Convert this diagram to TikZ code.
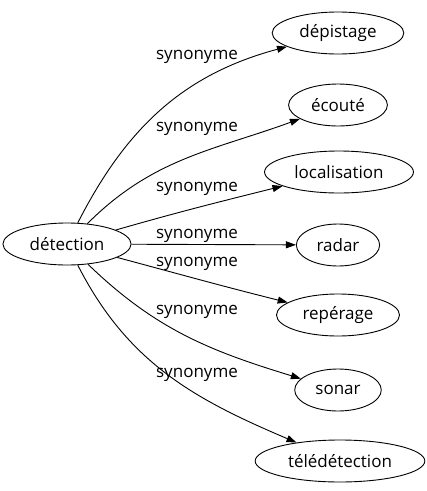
\documentclass[tikz,border=0pt]{standalone}
\usepackage{fontspec}
\setmainfont{Open Sans}
\usetikzlibrary{shapes.geometric}
\usetikzlibrary{arrows.meta}

\begin{document}
\begin{tikzpicture}[x=1pt,y=1pt,
  word/.style={draw,ellipse,line width=0.9pt,inner xsep=8pt,minimum height=42pt,font=\fontsize{17}{20}\selectfont},
  rel/.style={font=\fontsize{17}{20}\selectfont,inner sep=0pt},
  syn/.style={draw,line width=0.9pt,-{Triangle[length=10pt,width=7pt]}}]
  \useasboundingbox (0,0) rectangle (427,-491);
  %center
  \node[word] (detection) at (67,-244) {détection};
  %right
  \node[word] (depistage) at (338,-33) {dépistage};
  \node[word] (ecoute) at (338,-105) {écouté};
  \node[word] (localisation) at (339,-172) {localisation};
  \node[word] (radar) at (338,-245) {radar};
  \node[word] (reperage) at (338,-315) {repérage};
  \node[word] (sonar) at (338,-390) {sonar};
  \node[word] (teledetection) at (340,-461) {télédétection};
  %edges
  \draw[syn] (detection) to[out=63,in=195] (depistage);
  \draw[syn] (detection) to[out=45,in=200] (ecoute);
  \draw[syn] (detection) to[out=16,in=194] (localisation);
  \draw[syn] (detection) -- (radar);
  \draw[syn] (detection) to[out=-15,in=166] (reperage);
  \draw[syn] (detection) to[out=-44,in=163] (sonar);
  \draw[syn] (detection) to[out=-63,in=157] (teledetection);
  %labels
  \node[rel] (l1) at (197,-57) {synonyme};
  \node[rel] (l2) at (197,-129) {synonyme};
  \node[rel] (l3) at (197,-189) {synonyme};
  \node[rel] (l4) at (197,-236) {synonyme};
  \node[rel] (l5) at (197,-264) {synonyme};
  \node[rel] (l6) at (197,-312) {synonyme};
  \node[rel] (l7) at (197,-375) {synonyme};
\end{tikzpicture}
\end{document}
